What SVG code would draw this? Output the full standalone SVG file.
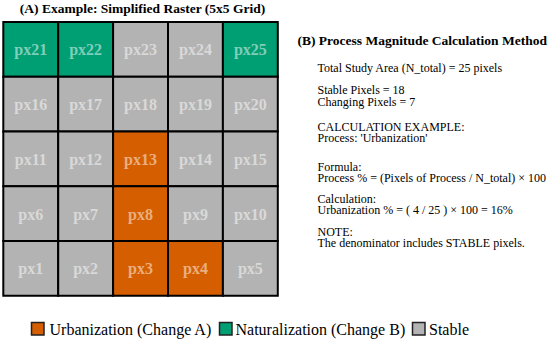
<svg xmlns="http://www.w3.org/2000/svg" width="550" height="342" viewBox="0 0 550 342">
<style>
.c{stroke:#000;stroke-width:2}
.u{fill:#D55E00}.n{fill:#009E73}.s{fill:#B3B3B3}
.l{fill:#fff;fill-opacity:0.5}
.k{stroke:#222;stroke-width:1.5}
</style>
<rect width="550" height="342" fill="#fff"/>
<text x="142.5" y="13" text-anchor="middle" font-family="Liberation Serif" font-size="13.5" font-weight="bold">(A) Example: Simplified Raster (5x5 Grid)</text>
<g id="grid">
<g id="px21"><rect class="c n" x="3.3" y="22" width="54.9" height="54.75"/><text class="l" x="30.75" y="55.4" font-family="Liberation Serif" font-size="16" font-weight="bold" text-anchor="middle">px21</text></g>
<g id="px22"><rect class="c n" x="58.2" y="22" width="54.9" height="54.75"/><text class="l" x="85.65" y="55.4" font-family="Liberation Serif" font-size="16" font-weight="bold" text-anchor="middle">px22</text></g>
<g id="px23"><rect class="c s" x="113.1" y="22" width="54.9" height="54.75"/><text class="l" x="140.55" y="55.4" font-family="Liberation Serif" font-size="16" font-weight="bold" text-anchor="middle">px23</text></g>
<g id="px24"><rect class="c s" x="168" y="22" width="54.9" height="54.75"/><text class="l" x="195.45" y="55.4" font-family="Liberation Serif" font-size="16" font-weight="bold" text-anchor="middle">px24</text></g>
<g id="px25"><rect class="c n" x="222.9" y="22" width="54.9" height="54.75"/><text class="l" x="250.35" y="55.4" font-family="Liberation Serif" font-size="16" font-weight="bold" text-anchor="middle">px25</text></g>

<g id="px16"><rect class="c s" x="3.3" y="76.75" width="54.9" height="54.75"/><text class="l" x="30.75" y="110.15" font-family="Liberation Serif" font-size="16" font-weight="bold" text-anchor="middle">px16</text></g>
<g id="px17"><rect class="c s" x="58.2" y="76.75" width="54.9" height="54.75"/><text class="l" x="85.65" y="110.15" font-family="Liberation Serif" font-size="16" font-weight="bold" text-anchor="middle">px17</text></g>
<g id="px18"><rect class="c s" x="113.1" y="76.75" width="54.9" height="54.75"/><text class="l" x="140.55" y="110.15" font-family="Liberation Serif" font-size="16" font-weight="bold" text-anchor="middle">px18</text></g>
<g id="px19"><rect class="c s" x="168" y="76.75" width="54.9" height="54.75"/><text class="l" x="195.45" y="110.15" font-family="Liberation Serif" font-size="16" font-weight="bold" text-anchor="middle">px19</text></g>
<g id="px20"><rect class="c s" x="222.9" y="76.75" width="54.9" height="54.75"/><text class="l" x="250.35" y="110.15" font-family="Liberation Serif" font-size="16" font-weight="bold" text-anchor="middle">px20</text></g>

<g id="px11"><rect class="c s" x="3.3" y="131.5" width="54.9" height="54.75"/><text class="l" x="30.75" y="164.9" font-family="Liberation Serif" font-size="16" font-weight="bold" text-anchor="middle">px11</text></g>
<g id="px12"><rect class="c s" x="58.2" y="131.5" width="54.9" height="54.75"/><text class="l" x="85.65" y="164.9" font-family="Liberation Serif" font-size="16" font-weight="bold" text-anchor="middle">px12</text></g>
<g id="px13"><rect class="c u" x="113.1" y="131.5" width="54.9" height="54.75"/><text class="l" x="140.55" y="164.9" font-family="Liberation Serif" font-size="16" font-weight="bold" text-anchor="middle">px13</text></g>
<g id="px14"><rect class="c s" x="168" y="131.5" width="54.9" height="54.75"/><text class="l" x="195.45" y="164.9" font-family="Liberation Serif" font-size="16" font-weight="bold" text-anchor="middle">px14</text></g>
<g id="px15"><rect class="c s" x="222.9" y="131.5" width="54.9" height="54.75"/><text class="l" x="250.35" y="164.9" font-family="Liberation Serif" font-size="16" font-weight="bold" text-anchor="middle">px15</text></g>

<g id="px6"><rect class="c s" x="3.3" y="186.25" width="54.9" height="54.75"/><text class="l" x="30.75" y="219.65" font-family="Liberation Serif" font-size="16" font-weight="bold" text-anchor="middle">px6</text></g>
<g id="px7"><rect class="c s" x="58.2" y="186.25" width="54.9" height="54.75"/><text class="l" x="85.65" y="219.65" font-family="Liberation Serif" font-size="16" font-weight="bold" text-anchor="middle">px7</text></g>
<g id="px8"><rect class="c u" x="113.1" y="186.25" width="54.9" height="54.75"/><text class="l" x="140.55" y="219.65" font-family="Liberation Serif" font-size="16" font-weight="bold" text-anchor="middle">px8</text></g>
<g id="px9"><rect class="c s" x="168" y="186.25" width="54.9" height="54.75"/><text class="l" x="195.45" y="219.65" font-family="Liberation Serif" font-size="16" font-weight="bold" text-anchor="middle">px9</text></g>
<g id="px10"><rect class="c s" x="222.9" y="186.25" width="54.9" height="54.75"/><text class="l" x="250.35" y="219.65" font-family="Liberation Serif" font-size="16" font-weight="bold" text-anchor="middle">px10</text></g>

<g id="px1"><rect class="c s" x="3.3" y="241" width="54.9" height="54.75"/><text class="l" x="30.75" y="274.4" font-family="Liberation Serif" font-size="16" font-weight="bold" text-anchor="middle">px1</text></g>
<g id="px2"><rect class="c s" x="58.2" y="241" width="54.9" height="54.75"/><text class="l" x="85.65" y="274.4" font-family="Liberation Serif" font-size="16" font-weight="bold" text-anchor="middle">px2</text></g>
<g id="px3"><rect class="c u" x="113.1" y="241" width="54.9" height="54.75"/><text class="l" x="140.55" y="274.4" font-family="Liberation Serif" font-size="16" font-weight="bold" text-anchor="middle">px3</text></g>
<g id="px4"><rect class="c u" x="168" y="241" width="54.9" height="54.75"/><text class="l" x="195.45" y="274.4" font-family="Liberation Serif" font-size="16" font-weight="bold" text-anchor="middle">px4</text></g>
<g id="px5"><rect class="c s" x="222.9" y="241" width="54.9" height="54.75"/><text class="l" x="250.35" y="274.4" font-family="Liberation Serif" font-size="16" font-weight="bold" text-anchor="middle">px5</text></g>
</g>
<g id="connectors"></g>
<g id="panelB">
<text x="297.5" y="45" font-family="Liberation Serif" font-size="13.5" font-weight="bold">(B) Process Magnitude Calculation Method</text>
<text x="317.5" y="71.7" font-family="Liberation Serif" font-size="12">Total Study Area (N_total) = 25 pixels</text>
<text x="317.5" y="94" font-family="Liberation Serif" font-size="12">Stable Pixels = 18</text>
<text x="317.5" y="105.5" font-family="Liberation Serif" font-size="12">Changing Pixels = 7</text>
<text x="317.5" y="130.5" font-family="Liberation Serif" font-size="12">CALCULATION EXAMPLE:</text>
<text x="317.5" y="142" font-family="Liberation Serif" font-size="12">Process: 'Urbanization'</text>
<text x="317.5" y="170.5" font-family="Liberation Serif" font-size="12">Formula:</text>
<text x="317.5" y="182" font-family="Liberation Serif" font-size="12">Process % = (Pixels of Process / N_total) × 100</text>
<text x="317.5" y="202.7" font-family="Liberation Serif" font-size="12">Calculation:</text>
<text x="317.5" y="214.2" font-family="Liberation Serif" font-size="12">Urbanization % = ( 4 / 25 ) × 100 = 16%</text>
<text x="317.5" y="235.7" font-family="Liberation Serif" font-size="12">NOTE:</text>
<text x="317.5" y="247.2" font-family="Liberation Serif" font-size="12">The denominator includes STABLE pixels.</text>
</g>
<g id="legend">
<rect class="k u" x="31.5" y="322.5" width="12.5" height="12.5"/>
<text x="49.5" y="335" font-family="Liberation Serif" font-size="16">Urbanization (Change A)</text>
<rect class="k n" x="219.5" y="322.5" width="12.5" height="12.5"/>
<text x="235.5" y="335" font-family="Liberation Serif" font-size="16">Naturalization (Change B)</text>
<rect class="k s" x="412.5" y="322.5" width="12.5" height="12.5"/>
<text x="429" y="335" font-family="Liberation Serif" font-size="16">Stable</text>
</g>
</svg>
